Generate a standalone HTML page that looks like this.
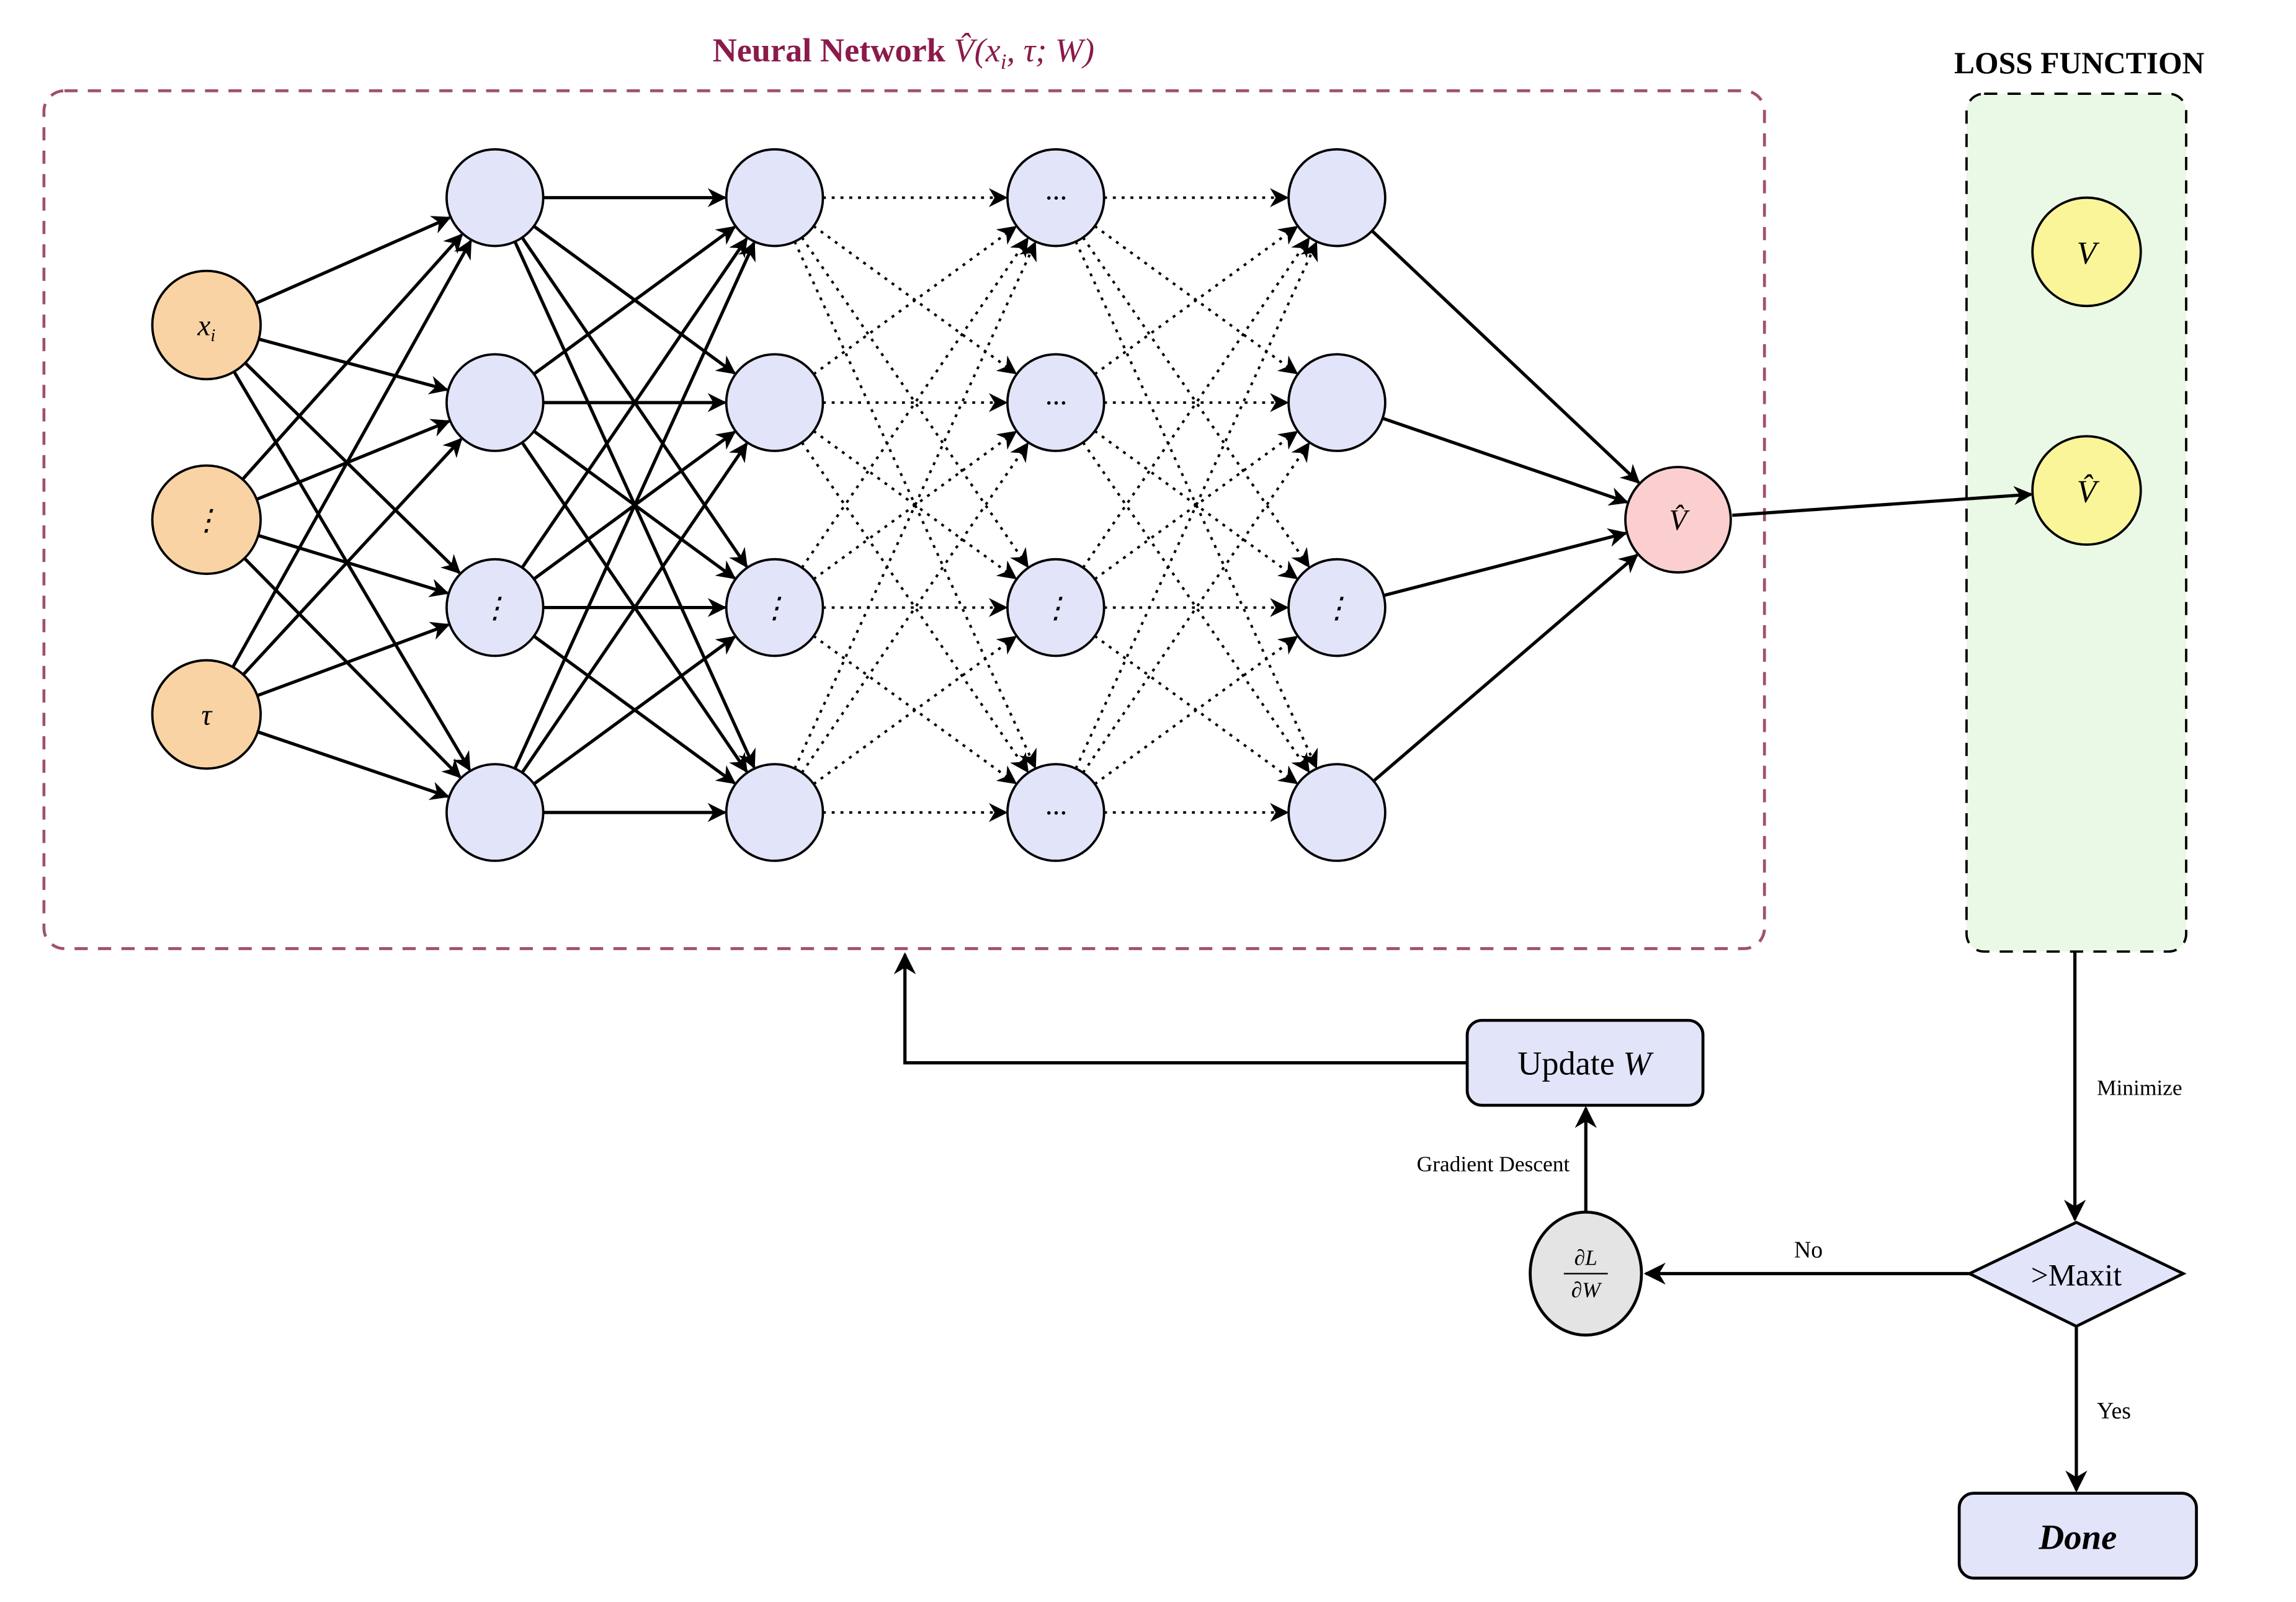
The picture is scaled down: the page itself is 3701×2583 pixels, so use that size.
<!DOCTYPE html>
<html><head><meta charset="utf-8"><style>
html,body{margin:0;padding:0;background:#fff;width:3701px;height:2583px;overflow:hidden}
svg{display:block}
text{font-family:"Liberation Serif",serif}
</style></head><body>
<svg id="s" width="3701" height="2583" viewBox="0 0 1568 1094.3" xmlns="http://www.w3.org/2000/svg">
<defs>
<marker id="a" viewBox="0 0 10 10" refX="9" refY="5" markerWidth="13" markerHeight="13" markerUnits="userSpaceOnUse" orient="auto"><path d="M0,0 L10,5 L0,10 L3,5 Z" fill="#000"/></marker>
<marker id="b" viewBox="0 0 10 10" refX="9" refY="5" markerWidth="15" markerHeight="15" markerUnits="userSpaceOnUse" orient="auto"><path d="M0,0 L10,5 L0,10 L3,5 Z" fill="#000"/></marker>
</defs>
<rect x="30" y="62" width="1175" height="586" rx="14" fill="none" stroke="#a0506f" stroke-width="2" stroke-dasharray="9,7"/>
<text x="617" y="42" text-anchor="middle" font-size="23" font-weight="bold" fill="#8b1a4b">Neural Network <tspan font-style="italic" font-weight="normal">V̂(x</tspan><tspan font-size="15" font-style="italic" font-weight="normal" dy="5">i</tspan><tspan font-style="italic" font-weight="normal" dy="-5">, τ; W)</tspan></text>
<rect x="1343" y="64" width="150" height="586" rx="12" fill="#eaf8e6" stroke="#000" stroke-width="1.6" stroke-dasharray="9,7"/>
<text x="1420" y="50" text-anchor="middle" font-size="21" font-weight="bold">LOSS FUNCTION</text>
<g id="net"></g>
<line x1="1417" y1="650" x2="1417" y2="833" stroke="#000" stroke-width="2.2" marker-end="url(#b)"/>
<text x="1432" y="748" font-size="15">Minimize</text>
<polygon points="1345,870 1418,835 1491,870 1418,906" fill="#e2e4fa" stroke="#000" stroke-width="2"/>
<text x="1418" y="878" text-anchor="middle" font-size="21" font-family="Liberation Mono,monospace">&gt;Maxit</text>
<line x1="1345" y1="870" x2="1124" y2="870" stroke="#000" stroke-width="2.2" marker-end="url(#b)"/>
<text x="1235" y="859" text-anchor="middle" font-size="16">No</text>
<ellipse cx="1083" cy="870" rx="38" ry="42" fill="#e4e4e4" stroke="#000" stroke-width="2"/>
<text x="1083" y="864" text-anchor="middle" font-size="15" font-style="italic">∂L</text>
<line x1="1068" y1="870" x2="1098" y2="870" stroke="#000" stroke-width="1"/>
<text x="1083" y="886" text-anchor="middle" font-size="15" font-style="italic">∂W</text>
<line x1="1083" y1="828" x2="1083" y2="757" stroke="#000" stroke-width="2.2" marker-end="url(#b)"/>
<text x="1072" y="800" text-anchor="end" font-size="15">Gradient Descent</text>
<rect x="1002" y="697" width="161" height="58" rx="10" fill="#e2e4fa" stroke="#000" stroke-width="2"/>
<text x="1082" y="734" text-anchor="middle" font-size="23">Update <tspan font-style="italic">W</tspan></text>
<polyline points="1002,726 618,726 618,652" fill="none" stroke="#000" stroke-width="2.2" marker-end="url(#b)"/>
<line x1="1418" y1="906" x2="1418" y2="1018" stroke="#000" stroke-width="2.2" marker-end="url(#b)"/>
<text x="1432" y="969" font-size="16">Yes</text>
<rect x="1338" y="1020" width="162" height="58" rx="10" fill="#e2e4fa" stroke="#000" stroke-width="2"/>
<text x="1419" y="1058" text-anchor="middle" font-size="24" font-style="italic" font-weight="bold">Done</text>
</svg>
<script>
var g=document.getElementById('net'),h='';
var L=[{x:141,ys:[222,355,488],r:37,f:'#f9d3a3',lab:['x<tspan font-size="12" dy="4">i</tspan>','⋮','τ']},
{x:338,ys:[135,275,415,555],r:33,f:'#e2e4fa',lab:['','','⋮','']},
{x:529,ys:[135,275,415,555],r:33,f:'#e2e4fa',lab:['','','⋮','']},
{x:721,ys:[135,275,415,555],r:33,f:'#e2e4fa',lab:['···','···','⋮','···']},
{x:913,ys:[135,275,415,555],r:33,f:'#e2e4fa',lab:['','','⋮','']},
{x:1146,ys:[355],r:36,f:'#fbcfcf',lab:['V̂']}];
function ln(x1,y1,r1,x2,y2,r2,dot){var dx=x2-x1,dy=y2-y1,d=Math.hypot(dx,dy),ux=dx/d,uy=dy/d;
h+='<line x1="'+(x1+ux*r1)+'" y1="'+(y1+uy*r1)+'" x2="'+(x2-ux*(r2+1))+'" y2="'+(y2-uy*(r2+1))+'" stroke="#000" stroke-width="'+(dot?1.7:2.2)+'"'+(dot?' stroke-dasharray="2,4"':'')+' marker-end="url(#a)"/>';}
for(var k=0;k<L.length-1;k++){var A=L[k],B=L[k+1],dot=(k==2||k==3);
A.ys.forEach(function(y1){B.ys.forEach(function(y2){ln(A.x,y1,A.r,B.x,y2,B.r,dot);});});}
ln(1183,352,0,1425,335,37,false);
L.forEach(function(l){l.ys.forEach(function(y,i){h+='<circle cx="'+l.x+'" cy="'+y+'" r="'+l.r+'" fill="'+l.f+'" stroke="#000" stroke-width="1.6"/>';
if(l.lab[i])h+='<text x="'+l.x+'" y="'+(y+7)+'" text-anchor="middle" font-size="20" font-style="italic">'+l.lab[i]+'</text>';});});
h+='<circle cx="1425" cy="172" r="37" fill="#fbf59a" stroke="#000" stroke-width="1.6"/><text x="1425" y="180" text-anchor="middle" font-size="22" font-style="italic">V</text>';
h+='<circle cx="1425" cy="335" r="37" fill="#fbf59a" stroke="#000" stroke-width="1.6"/><text x="1425" y="343" text-anchor="middle" font-size="22" font-style="italic">V̂</text>';
g.innerHTML=h;
</script>
</body></html>
